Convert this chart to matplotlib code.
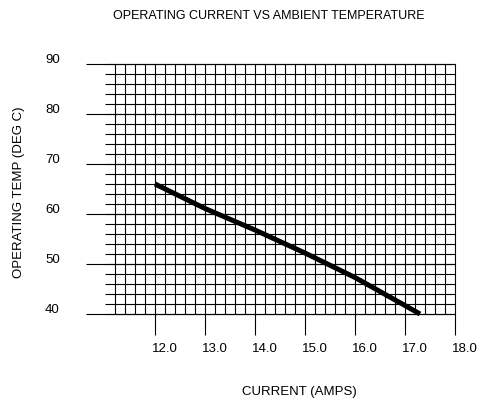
import numpy as np
import matplotlib.pyplot as plt

plt.rcParams['font.family'] = ['Liberation Sans', 'DejaVu Sans']

# curve
current = [12.0, 13.0, 14.0, 15.0, 16.0, 17.0, 17.3]
temp = [66.0, 61.1, 56.8, 52.2, 47.3, 41.7, 40.0]

x_ticks = [12.0, 13.0, 14.0, 15.0, 16.0, 17.0, 18.0]
x_labels = ["12.0", "13.0", "14.0", "15.0", "16.0", "17.0", "18.0"]
y_ticks = [40, 50, 60, 70, 80, 90]
y_labels = ["40", "50", "60", "70", "80", "90"]

fig = plt.figure(figsize=(4.78, 4.01), dpi=100)
ax = fig.add_axes([0, 0, 1, 1])
ax.set_xlim(8.9, 18.46)
ax.set_ylim(22.6, 102.8)
ax.axis("off")

# grid: minor lines every 0.2 A / 2 deg, long lines at labelled temps
vx = np.arange(11.2, 18.01, 0.2)
ax.vlines(vx, 40, 90, color="black", lw=0.8)
hy = np.arange(40, 90.1, 2)
ax.hlines(hy, 11.0, 18.0, color="black", lw=0.8)
ax.hlines(y_ticks, 10.62, 18.0, color="black", lw=0.8)
ax.vlines(x_ticks, 35.8, 40, color="black", lw=0.8)

ax.plot(current, temp, color="black", lw=3.6, solid_capstyle="butt")

for x, lab in zip(x_ticks, x_labels):
    ax.text(x + 0.2, 32.9, lab, ha="center", va="center", fontsize=9.5)
for y, lab in zip(y_ticks, y_labels):
    ax.text(9.95, y + 0.8, lab, ha="center", va="center", fontsize=9.5)

fig.text(269 / 478, 1 - 16 / 401, "OPERATING CURRENT VS AMBIENT TEMPERATURE",
         ha="center", va="center", fontsize=9)
fig.text(299 / 478, 1 - 392 / 401, "CURRENT (AMPS)", ha="center", va="center", fontsize=9.5)
fig.text(19 / 478, 1 - 192 / 401, "OPERATING TEMP (DEG C)", ha="center", va="center",
         rotation=90, fontsize=9.5)

fig.savefig("out.png", dpi=100)
